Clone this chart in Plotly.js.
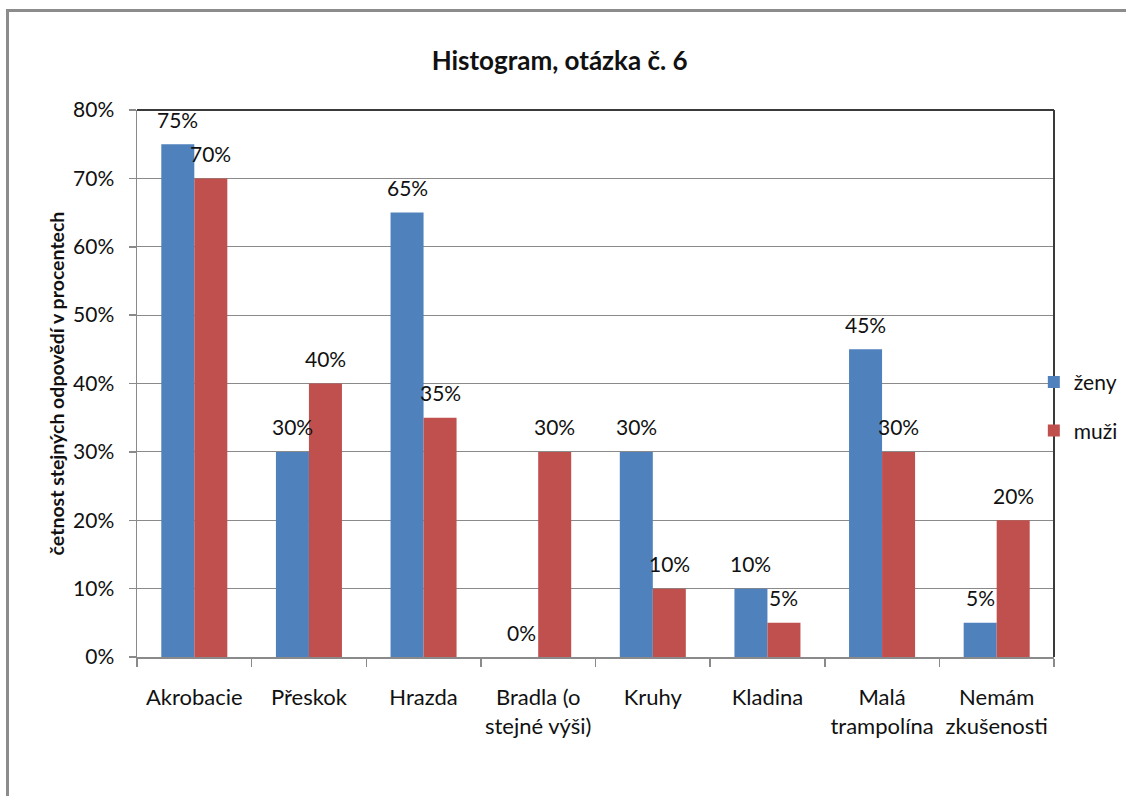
<!DOCTYPE html>
<html>
<head>
<meta charset="utf-8">
<script src="https://cdn.plot.ly/plotly-3.0.1.min.js"></script>
<style>
  html, body { margin: 0; padding: 0; background: #fff; overflow: hidden; }
  #wrap { position: relative; width: 1126px; height: 796px; }
  #chart { width: 1126px; height: 796px; }
  #frame { position: absolute; left: 6px; top: 9px; width: 2000px; height: 2000px;
           border-left: 3px solid #8c8c8c; border-top: 3px solid #8c8c8c; pointer-events: none; }
</style>
</head>
<body>
<div id="wrap">
  <div id="chart"></div>
  <div id="frame"></div>
</div>
<script>
const categories = ["Akrobacie", "Přeskok", "Hrazda", "Bradla (o<br>stejné výši)", "Kruhy", "Kladina", "Malá<br>trampolína", "Nemám<br>zkušenosti"];
const zeny = [75, 30, 65, 0, 30, 10, 45, 5];
const muzi = [70, 40, 35, 30, 10, 5, 30, 20];
const seriesNames = ["ženy", "muži"];
const colors = ["#4F81BD", "#C0504D"];
const titleText = "Histogram, otázka č. 6";
const yTitle = "četnost stejných odpovědí v procentech";

const FONT = "Lato, 'Open Sans', sans-serif";

const traces = [zeny, muzi].map((vals, k) => ({
  type: "bar",
  name: seriesNames[k],
  x: categories,
  y: vals,
  marker: { color: colors[k], line: { width: 0 } },
  legendgroup: "g" + k,
  hoverinfo: "skip"
}));

const annotations = [];
[zeny, muzi].forEach((vals, k) => {
  vals.forEach((v, i) => {
    annotations.push({
      x: categories[i], y: v, xref: "x", yref: "y",
      text: v + "%", showarrow: false,
      xshift: k === 0 ? -16.5 : 16.5, yshift: 25,
      yanchor: "middle", xanchor: "center",
      font: { family: FONT, size: 21, color: "#111" }
    });
  });
});

const layout = {
  width: 1126, height: 796,
  margin: { l: 137, r: 72, t: 110, b: 139, autoexpand: false },
  paper_bgcolor: "#fff", plot_bgcolor: "#fff",
  font: { family: FONT, size: 21, color: "#111" },
  title: {
    text: "<b>" + titleText + "</b>",
    font: { family: FONT, size: 26, color: "#111" },
    xref: "container", x: 0.497, xanchor: "center",
    yref: "container", y: 1 - 61 / 796, yanchor: "middle"
  },
  bargap: 0.424, bargroupgap: 0,
  barmode: "group",
  xaxis: {
    type: "category",
    showline: true, linecolor: "#8a8a8a", linewidth: 1.5,
    ticks: "outside", tickson: "boundaries", ticklen: 8, tickcolor: "#8a8a8a", tickwidth: 1.5,
    ticklabelstandoff: 20, tickangle: 0,
    showgrid: false, zeroline: false,
    tickfont: { family: FONT, size: 22, color: "#111" },
    automargin: false, fixedrange: true
  },
  yaxis: {
    range: [0, 80], dtick: 10, tick0: 0, ticksuffix: "%",
    showline: true, linecolor: "#8a8a8a", linewidth: 1.5,
    ticks: "outside", ticklen: 7, tickcolor: "#8a8a8a", tickwidth: 1.5,
    ticklabelstandoff: 10,
    showgrid: true, gridcolor: "#8a8a8a", gridwidth: 1,
    zeroline: false,
    tickfont: { family: FONT, size: 21, color: "#111" },
    title: { text: "<b>" + yTitle + "</b>", font: { family: FONT, size: 19.5, color: "#111" }, standoff: 3 },
    automargin: false, fixedrange: true
  },
  legend: {
    x: 0.978, xanchor: "left", y: 0.458, yanchor: "middle",
    bgcolor: "rgba(0,0,0,0)", borderwidth: 0,
    font: { family: FONT, size: 21, color: "#111" },
    tracegroupgap: 18, itemwidth: 30
  },
  shapes: [
    { type: "line", xref: "paper", yref: "paper", x0: 0, x1: 1, y0: 1, y1: 1, line: { color: "#3a3a3a", width: 2 } },
    { type: "line", xref: "paper", yref: "paper", x0: 1, x1: 1, y0: 0, y1: 1, line: { color: "#3a3a3a", width: 2 } }
  ],
  annotations: annotations,
  showlegend: true
};

Plotly.newPlot("chart", traces, layout, { displayModeBar: false, staticPlot: true });
</script>
</body>
</html>
